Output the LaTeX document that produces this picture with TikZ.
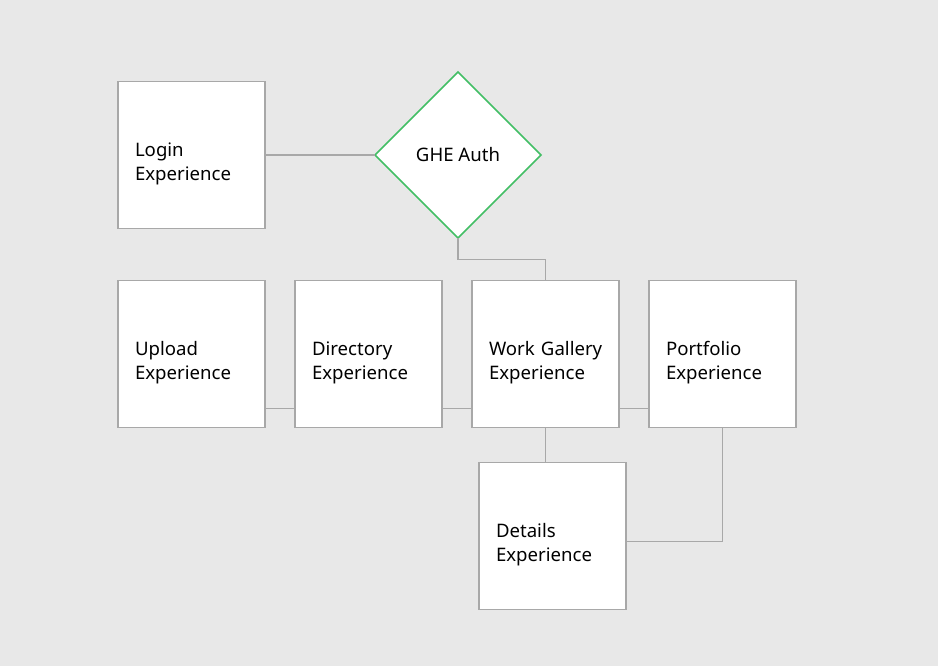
\documentclass[tikz,border=0pt]{standalone}
\usepackage{fontspec}
\setmainfont{Noto Sans}
\usepackage{xcolor}
\usepackage{tikz}
\usetikzlibrary{positioning,shapes.geometric,calc}
\definecolor{pagebg}{HTML}{E8E8E8}
\definecolor{edgegray}{HTML}{A8A8A8}
\definecolor{authgreen}{HTML}{42BE65}

\begin{document}
\begin{tikzpicture}[x=1bp,y=1bp,font=\fontsize{18.6bp}{24bp}\selectfont,node distance=30bp]
        \tikzstyle{exp}=[draw=edgegray,line width=1.5bp,fill=white,minimum height=147bp,text width=113bp,text height=32bp,inner xsep=17bp,inner ysep=0pt,outer sep=0pt,align=left]
        \tikzstyle{auth}=[diamond,draw=authgreen,line width=1.5bp,fill=white,minimum size=166bp,inner sep=0pt,outer sep=0pt,align=center]
        \tikzstyle{link}=[draw=edgegray,line width=1.5bp]
        \fill[pagebg] (0,0) rectangle (938,-666);
        \node[exp] (login) at (191.5,-155) {Login\\Experience};
        \node[auth,right=110bp of login] (ghe) {GHE Auth};
        \node[exp,below=52bp of login] (upload) {Upload\\Experience};
        \node[exp,right=of upload] (dir) {Directory\\Experience};
        \node[exp,right=of dir] (work) {Work~Gallery\\Experience};
        \node[exp,right=of work] (port) {Portfolio\\Experience};
        \node[exp,below=35bp of work,xshift=7bp] (det) {Details\\Experience};
        % elbow between the diamond and the gallery box
        \coordinate (elbow) at ($(ghe.south)!0.5!(work.north)$);
        \draw[link] (login.east) -- (ghe.west);
        \draw[link] (ghe.south) -- (ghe.south |- elbow) -| (work.north);
        \draw[link] ([yshift=19bp]upload.south east) -- ([yshift=19bp]dir.south west);
        \draw[link] ([yshift=19bp]dir.south east) -- ([yshift=19bp]work.south west);
        \draw[link] ([yshift=19bp]work.south east) -- ([yshift=19bp]port.south west);
        \draw[link] (work.south) -- (work.south |- det.north);
        \draw[link] (port.south) |- ([yshift=-5.5bp]det.east);
      \end{tikzpicture}
\end{document}
